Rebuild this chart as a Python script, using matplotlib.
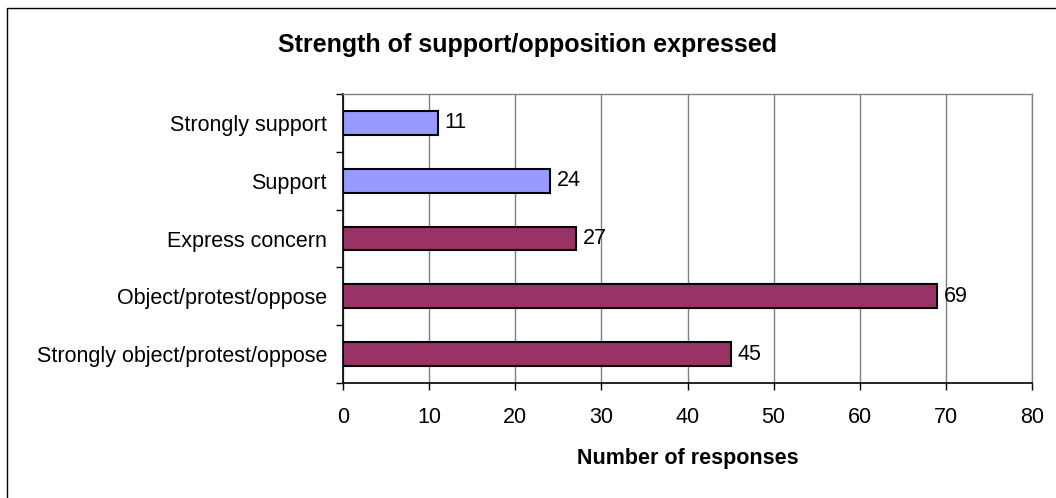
import matplotlib
matplotlib.use('Agg')
import matplotlib.pyplot as plt
from matplotlib.patches import Rectangle
from matplotlib.ticker import MultipleLocator, FixedLocator

plt.rcParams['font.family'] = ['Liberation Sans', 'DejaVu Sans']

# categories listed bottom to top
categories = ['Strongly object/protest/oppose', 'Object/protest/oppose',
              'Express concern', 'Support', 'Strongly support']
responses = [45, 69, 27, 24, 11]
bar_colors = ['#993366', '#993366', '#993366', '#9999FF', '#9999FF']

fig = plt.figure(figsize=(10.56, 4.98), dpi=100)
fig.patch.set_facecolor('white')

# outer chart border (only left/top visible in the original)
fig.patches.append(Rectangle((7 / 1056, -0.1), 1.2, 1 - 8 / 498 + 0.1, transform=fig.transFigure,
                             fill=False, edgecolor='black', linewidth=1.0))

ax = fig.add_axes([343 / 1056, 1 - 383 / 498, (1032 - 343) / 1056, (383 - 94) / 498])

ypos = list(range(len(categories)))
ax.barh(ypos, responses, height=0.41, color=bar_colors, edgecolor='black', linewidth=1.5, zorder=3)

for y, v in zip(ypos, responses):
    ax.annotate(str(v), (v, y), xytext=(5, 0), textcoords='offset points',
                va='center', ha='left', fontsize=15.5)

ax.set_xlim(0, 80)
ax.set_ylim(-0.5, len(categories) - 0.5)
ax.xaxis.set_major_locator(MultipleLocator(10))
ax.set_yticks(ypos)
ax.set_yticklabels(categories)
ax.yaxis.set_minor_locator(FixedLocator([i - 0.5 for i in range(len(categories) + 1)]))

ax.tick_params(axis='y', which='major', length=0, pad=11.5, labelsize=15.5)
ax.tick_params(axis='y', which='minor', length=5, width=1, direction='out')
ax.tick_params(axis='x', which='major', length=5, width=1, direction='out', pad=12, labelsize=15.5)

ax.grid(axis='x', color='#808080', linewidth=1.0, zorder=0)
for s in ['top', 'right']:
    ax.spines[s].set_color('#808080')
    ax.spines[s].set_linewidth(1.0)
for s in ['left', 'bottom']:
    ax.spines[s].set_color('black')
    ax.spines[s].set_linewidth(1.2)

ax.set_xlabel('Number of responses', fontsize=15.5, fontweight='bold', labelpad=15)
fig.text(0.5, 1 - 45 / 498, 'Strength of support/opposition expressed',
         ha='center', va='center', fontsize=18, fontweight='bold')

fig.savefig('out.png', dpi=100)
